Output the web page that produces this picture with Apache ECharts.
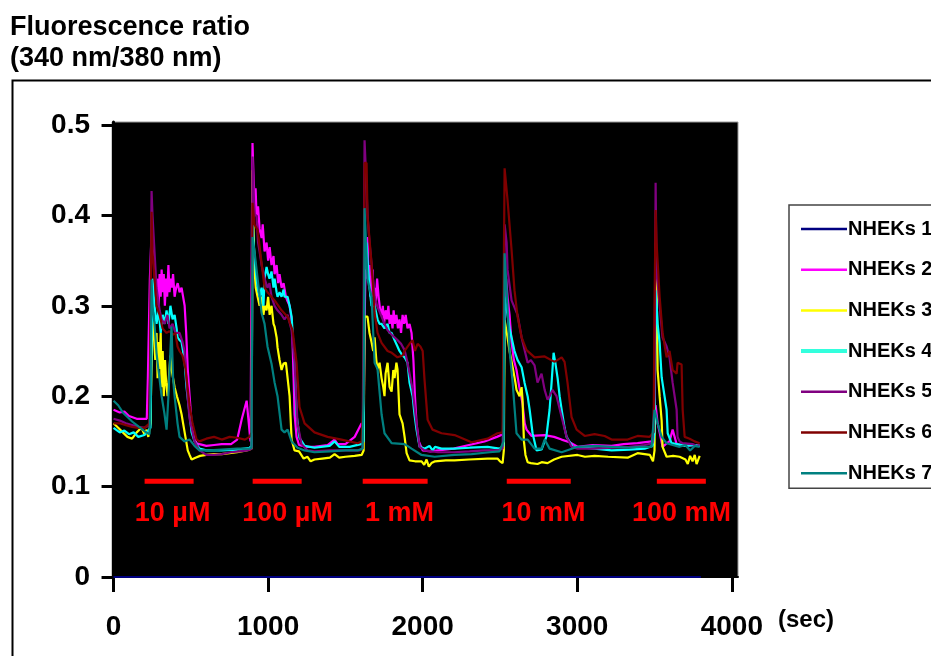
<!DOCTYPE html>
<html>
<head>
<meta charset="utf-8">
<script src="https://cdn.jsdelivr.net/npm/echarts@6/dist/echarts.min.js"></script>
<style>html,body{margin:0;padding:0;background:#fff}#c{width:931px;height:656px}</style>
</head>
<body>
<div id="c"></div>
<script>
// ---------- data (time in sec, fluorescence ratio 340/380) ----------
const seriesNames = ['NHEKs 1','NHEKs 2','NHEKs 3','NHEKs 4','NHEKs 5','NHEKs 6','NHEKs 7'];
const xTicks = [0,1000,2000,3000,4000];
const yTicks = [0,0.1,0.2,0.3,0.4,0.5];

const nhek1 = [[0,0],[3800,0]];
const nhek2 = [[0,0.185],[40,0.182],[70,0.183],[100,0.178],[150,0.175],[215,0.175],[222,0.22],[235,0.33],[246,0.38],[255,0.36],[265,0.34],[275,0.31],[285,0.33],[292,0.30],[298,0.335],[305,0.31],[311,0.34],[318,0.315],[325,0.335],[332,0.30],[340,0.33],[347,0.31],[355,0.345],[362,0.315],[370,0.33],[378,0.32],[385,0.335],[395,0.31],[405,0.32],[415,0.325],[427,0.315],[440,0.32],[450,0.31],[460,0.30],[470,0.27],[480,0.23],[492,0.20],[505,0.17],[520,0.155],[537,0.148],[556,0.147],[600,0.145],[650,0.146],[700,0.147],[760,0.147],[800,0.152],[830,0.175],[861,0.195],[875,0.17],[886,0.15],[893,0.15],[899,0.48],[906,0.44],[912,0.42],[919,0.43],[925,0.40],[935,0.41],[945,0.385],[958,0.375],[965,0.39],[977,0.36],[990,0.37],[1000,0.35],[1010,0.365],[1022,0.345],[1035,0.355],[1042,0.335],[1055,0.345],[1065,0.325],[1074,0.335],[1087,0.32],[1100,0.325],[1115,0.31],[1126,0.305],[1139,0.30],[1152,0.285],[1158,0.26],[1165,0.22],[1171,0.18],[1184,0.155],[1200,0.146],[1250,0.144],[1300,0.144],[1385,0.146],[1430,0.152],[1450,0.147],[1500,0.147],[1560,0.155],[1590,0.165],[1605,0.17],[1618,0.165],[1624,0.28],[1630,0.34],[1637,0.33],[1643,0.376],[1650,0.33],[1656,0.345],[1662,0.31],[1669,0.325],[1676,0.34],[1682,0.31],[1689,0.32],[1697,0.30],[1705,0.33],[1715,0.31],[1725,0.295],[1734,0.29],[1742,0.30],[1750,0.28],[1760,0.295],[1770,0.285],[1778,0.30],[1786,0.28],[1795,0.29],[1805,0.275],[1812,0.295],[1820,0.28],[1830,0.29],[1840,0.275],[1850,0.285],[1860,0.27],[1870,0.29],[1880,0.28],[1890,0.29],[1902,0.275],[1915,0.28],[1928,0.27],[1940,0.24],[1950,0.2],[1960,0.17],[1975,0.15],[2000,0.14],[2050,0.139],[2100,0.14],[2200,0.142],[2300,0.146],[2400,0.15],[2480,0.155],[2520,0.158],[2530,0.30],[2540,0.33],[2549,0.31],[2562,0.29],[2575,0.26],[2590,0.24],[2607,0.229],[2625,0.21],[2646,0.192],[2660,0.17],[2672,0.163],[2705,0.156],[2789,0.157],[2850,0.155],[2899,0.152],[2950,0.149],[3002,0.144],[3100,0.146],[3222,0.145],[3300,0.147],[3390,0.148],[3481,0.15],[3500,0.16],[3507,0.19],[3520,0.17],[3533,0.16],[3552,0.144],[3580,0.148],[3597,0.15],[3617,0.163],[3630,0.155],[3643,0.147],[3700,0.145],[3760,0.146],[3792,0.145]];
const nhek3 = [[0,0.17],[30,0.165],[60,0.16],[90,0.155],[120,0.153],[150,0.16],[180,0.165],[200,0.158],[214,0.163],[225,0.155],[239,0.17],[252,0.30],[260,0.27],[270,0.24],[278,0.27],[285,0.22],[292,0.26],[298,0.23],[305,0.27],[311,0.21],[318,0.25],[325,0.2],[333,0.24],[340,0.215],[350,0.2],[358,0.22],[368,0.245],[375,0.23],[385,0.22],[395,0.21],[410,0.2],[427,0.19],[440,0.18],[455,0.165],[470,0.15],[480,0.14],[492,0.135],[505,0.13],[530,0.132],[560,0.134],[600,0.135],[650,0.136],[700,0.136],[750,0.137],[800,0.138],[860,0.14],[893,0.142],[899,0.45],[906,0.38],[912,0.34],[920,0.32],[932,0.31],[945,0.30],[958,0.31],[970,0.29],[977,0.30],[990,0.295],[1000,0.31],[1010,0.29],[1022,0.30],[1035,0.28],[1042,0.277],[1055,0.265],[1061,0.254],[1074,0.24],[1087,0.229],[1100,0.236],[1115,0.237],[1126,0.236],[1139,0.20],[1152,0.152],[1171,0.14],[1200,0.139],[1230,0.131],[1255,0.133],[1275,0.128],[1300,0.13],[1350,0.131],[1400,0.132],[1430,0.136],[1460,0.132],[1500,0.133],[1560,0.134],[1605,0.135],[1618,0.14],[1624,0.288],[1643,0.288],[1656,0.27],[1669,0.26],[1680,0.25],[1689,0.265],[1700,0.24],[1708,0.23],[1721,0.237],[1734,0.22],[1745,0.21],[1753,0.2],[1760,0.225],[1773,0.237],[1786,0.21],[1799,0.205],[1810,0.229],[1818,0.22],[1830,0.237],[1837,0.23],[1850,0.18],[1870,0.17],[1883,0.155],[1896,0.137],[1915,0.129],[1950,0.128],[1993,0.128],[2010,0.124],[2025,0.13],[2040,0.122],[2057,0.126],[2080,0.128],[2150,0.129],[2206,0.129],[2300,0.13],[2420,0.131],[2484,0.131],[2500,0.128],[2517,0.126],[2525,0.14],[2530,0.284],[2549,0.265],[2562,0.25],[2582,0.232],[2600,0.215],[2607,0.207],[2627,0.2],[2640,0.21],[2646,0.196],[2655,0.15],[2665,0.135],[2679,0.127],[2700,0.126],[2743,0.125],[2770,0.127],[2808,0.126],[2850,0.13],[2899,0.133],[3002,0.135],[3050,0.133],[3112,0.134],[3200,0.133],[3326,0.132],[3390,0.137],[3470,0.135],[3490,0.128],[3500,0.14],[3507,0.37],[3513,0.33],[3520,0.229],[3533,0.2],[3546,0.173],[3552,0.144],[3578,0.133],[3620,0.134],[3662,0.133],[3700,0.13],[3715,0.125],[3730,0.134],[3746,0.128],[3760,0.135],[3772,0.125],[3792,0.134]];
const nhek4 = [[0,0.165],[40,0.16],[70,0.162],[100,0.158],[130,0.16],[160,0.155],[200,0.157],[239,0.165],[252,0.33],[265,0.3],[278,0.28],[292,0.295],[305,0.27],[318,0.29],[330,0.28],[343,0.295],[355,0.28],[368,0.30],[382,0.285],[395,0.29],[408,0.275],[414,0.265],[427,0.262],[440,0.26],[459,0.24],[472,0.21],[492,0.18],[505,0.16],[524,0.15],[556,0.142],[600,0.14],[700,0.14],[800,0.141],[880,0.143],[893,0.145],[899,0.40],[906,0.37],[919,0.34],[932,0.32],[945,0.31],[958,0.32],[970,0.30],[977,0.33],[990,0.343],[1000,0.335],[1009,0.33],[1022,0.338],[1035,0.32],[1042,0.33],[1055,0.315],[1061,0.31],[1074,0.315],[1087,0.31],[1100,0.318],[1106,0.31],[1126,0.31],[1139,0.30],[1152,0.288],[1171,0.237],[1184,0.18],[1203,0.154],[1236,0.145],[1300,0.143],[1398,0.145],[1430,0.15],[1460,0.144],[1527,0.144],[1600,0.147],[1618,0.15],[1624,0.35],[1637,0.37],[1643,0.35],[1656,0.32],[1669,0.3],[1689,0.30],[1708,0.285],[1721,0.28],[1734,0.28],[1753,0.275],[1773,0.28],[1786,0.27],[1799,0.27],[1818,0.262],[1837,0.255],[1850,0.25],[1870,0.245],[1883,0.243],[1902,0.237],[1915,0.215],[1935,0.2],[1947,0.18],[1960,0.163],[1980,0.144],[2012,0.142],[2044,0.145],[2064,0.14],[2080,0.144],[2122,0.142],[2206,0.142],[2303,0.143],[2420,0.144],[2497,0.142],[2523,0.145],[2530,0.31],[2540,0.30],[2549,0.29],[2562,0.275],[2575,0.265],[2594,0.25],[2614,0.24],[2640,0.232],[2659,0.215],[2679,0.2],[2692,0.185],[2711,0.159],[2737,0.14],[2769,0.141],[2800,0.155],[2821,0.185],[2834,0.215],[2847,0.248],[2860,0.235],[2873,0.22],[2886,0.2],[2899,0.185],[2918,0.165],[2931,0.155],[2970,0.144],[3048,0.143],[3112,0.142],[3222,0.14],[3338,0.141],[3436,0.142],[3487,0.145],[3500,0.16],[3507,0.317],[3513,0.303],[3520,0.28],[3533,0.259],[3546,0.221],[3578,0.185],[3585,0.159],[3610,0.148],[3643,0.147],[3700,0.145],[3760,0.146],[3792,0.145]];
const nhek5 = [[0,0.175],[40,0.173],[80,0.17],[120,0.168],[160,0.166],[200,0.165],[233,0.168],[239,0.3],[246,0.427],[252,0.40],[265,0.36],[278,0.32],[298,0.295],[311,0.285],[330,0.28],[349,0.29],[362,0.275],[382,0.28],[400,0.27],[427,0.27],[446,0.26],[459,0.25],[479,0.2],[492,0.175],[511,0.16],[524,0.15],[556,0.14],[600,0.135],[650,0.135],[700,0.136],[760,0.138],[815,0.139],[867,0.14],[893,0.142],[899,0.465],[912,0.40],[925,0.40],[935,0.37],[945,0.36],[958,0.345],[977,0.33],[996,0.32],[1009,0.325],[1022,0.31],[1042,0.30],[1061,0.295],[1087,0.29],[1106,0.285],[1126,0.29],[1152,0.273],[1171,0.237],[1190,0.17],[1216,0.147],[1255,0.14],[1300,0.139],[1400,0.14],[1500,0.14],[1590,0.14],[1611,0.142],[1618,0.3],[1624,0.483],[1637,0.43],[1643,0.40],[1656,0.37],[1669,0.347],[1689,0.31],[1705,0.30],[1734,0.288],[1753,0.28],[1773,0.273],[1800,0.268],[1837,0.262],[1860,0.258],[1883,0.251],[1902,0.237],[1935,0.207],[1960,0.17],[1980,0.144],[2012,0.14],[2100,0.138],[2200,0.138],[2303,0.139],[2400,0.14],[2484,0.14],[2517,0.142],[2523,0.2],[2530,0.39],[2543,0.37],[2549,0.34],[2575,0.306],[2614,0.29],[2640,0.265],[2679,0.237],[2700,0.24],[2724,0.234],[2743,0.215],[2769,0.225],[2789,0.207],[2808,0.196],[2821,0.2],[2840,0.207],[2866,0.2],[2899,0.177],[2931,0.155],[2963,0.144],[3002,0.142],[3112,0.142],[3222,0.143],[3338,0.144],[3436,0.146],[3487,0.148],[3500,0.2],[3507,0.436],[3513,0.34],[3533,0.3],[3552,0.265],[3578,0.255],[3597,0.243],[3617,0.215],[3643,0.185],[3649,0.155],[3662,0.15],[3682,0.148],[3746,0.147],[3772,0.145],[3792,0.146]];
const nhek6 = [[0,0.17],[40,0.17],[80,0.168],[120,0.166],[160,0.165],[200,0.165],[233,0.17],[239,0.28],[246,0.404],[252,0.36],[265,0.33],[278,0.30],[298,0.29],[317,0.275],[343,0.27],[362,0.272],[382,0.268],[400,0.27],[414,0.255],[427,0.25],[446,0.245],[466,0.23],[479,0.21],[492,0.19],[511,0.17],[537,0.152],[556,0.15],[600,0.153],[650,0.155],[700,0.152],[751,0.155],[800,0.154],[850,0.152],[880,0.155],[893,0.16],[899,0.414],[912,0.39],[932,0.384],[958,0.347],[977,0.32],[996,0.315],[1042,0.306],[1087,0.295],[1126,0.288],[1158,0.273],[1184,0.237],[1203,0.188],[1236,0.17],[1300,0.16],[1385,0.155],[1475,0.152],[1579,0.148],[1605,0.15],[1618,0.2],[1624,0.458],[1637,0.458],[1643,0.40],[1669,0.347],[1689,0.292],[1708,0.27],[1734,0.259],[1773,0.25],[1800,0.248],[1837,0.243],[1870,0.245],[1883,0.25],[1915,0.258],[1935,0.262],[1950,0.25],[1967,0.258],[1985,0.255],[2000,0.25],[2012,0.218],[2032,0.174],[2064,0.163],[2122,0.159],[2206,0.157],[2316,0.149],[2420,0.153],[2484,0.159],[2517,0.16],[2523,0.3],[2530,0.452],[2549,0.417],[2575,0.362],[2594,0.317],[2614,0.288],[2640,0.265],[2672,0.251],[2724,0.243],[2789,0.244],[2853,0.238],[2899,0.243],[2918,0.238],[2937,0.215],[2963,0.177],[2996,0.163],[3048,0.156],[3112,0.158],[3177,0.156],[3222,0.152],[3326,0.152],[3390,0.156],[3468,0.155],[3494,0.16],[3500,0.3],[3507,0.406],[3513,0.37],[3533,0.31],[3552,0.27],[3578,0.243],[3597,0.25],[3617,0.229],[3643,0.225],[3649,0.237],[3675,0.235],[3682,0.185],[3695,0.155],[3727,0.153],[3759,0.15],[3792,0.148]];
const nhek7 = [[0,0.195],[30,0.19],[60,0.182],[90,0.177],[120,0.172],[150,0.168],[180,0.164],[210,0.16],[233,0.158],[239,0.2],[246,0.329],[252,0.30],[265,0.28],[278,0.248],[290,0.23],[311,0.2],[330,0.18],[343,0.163],[355,0.2],[368,0.25],[375,0.277],[385,0.22],[395,0.2],[414,0.17],[427,0.155],[459,0.15],[492,0.152],[524,0.145],[556,0.14],[621,0.14],[700,0.141],[800,0.142],[880,0.142],[893,0.143],[899,0.376],[912,0.36],[932,0.33],[958,0.292],[977,0.28],[996,0.255],[1022,0.236],[1042,0.215],[1061,0.2],[1087,0.163],[1106,0.16],[1126,0.163],[1152,0.15],[1190,0.143],[1236,0.14],[1300,0.138],[1400,0.139],[1500,0.14],[1579,0.14],[1611,0.142],[1618,0.2],[1624,0.408],[1643,0.329],[1669,0.31],[1689,0.237],[1708,0.23],[1734,0.18],[1753,0.159],[1799,0.148],[1883,0.147],[1928,0.142],[1993,0.135],[2077,0.133],[2206,0.135],[2316,0.136],[2433,0.138],[2497,0.139],[2523,0.15],[2530,0.358],[2543,0.318],[2562,0.251],[2582,0.215],[2607,0.159],[2640,0.152],[2679,0.152],[2724,0.142],[2769,0.142],[2789,0.152],[2821,0.142],[2899,0.138],[3002,0.144],[3112,0.145],[3222,0.144],[3326,0.143],[3403,0.144],[3481,0.144],[3500,0.185],[3520,0.17],[3546,0.155],[3578,0.148],[3662,0.144],[3700,0.146],[3730,0.14],[3760,0.145],[3792,0.144]];

// stimulation periods (sec)
const stimLabels = ['10 µM','100 µM','1 mM','10 mM','100 mM'];
const stimStart = [201, 900, 1612, 2544, 3515];
const stimEnd = [518, 1217, 2032, 2958, 3832];
const stimLabelAt = [382, 1126, 1850, 2782, 3675];

// ---------- rendering ----------
const colors = ['#000080','#FF00FF','#FFFF00','#00FFFF','#800080','#800000','#008080'];
const allData = [nhek1,nhek2,nhek3,nhek4,nhek5,nhek6,nhek7];
const SF = "'Liberation Sans', Arial, sans-serif";

const chart = echarts.init(document.getElementById('c'), null, {renderer:'canvas'});
const BAR_LEVEL = 0.106, LABEL_LEVEL = 0.07;

const series = allData.map((d,i)=>({
  name: seriesNames[i], type:'line', data:d, showSymbol:false, symbol:'none',
  lineStyle:{color:colors[i], width:2.2}, itemStyle:{color:colors[i]},
  z: 2+i, animation:false
}));
series.push({
  type:'custom', name:'stim', silent:true, z:1,
  data: stimStart.map((s,i)=>[s, stimEnd[i], stimLabelAt[i]]),
  encode:{x:[0,1,2]},
  renderItem:(params, api)=>{
    const i = params.dataIndex;
    const a = api.coord([api.value(0), BAR_LEVEL]);
    const b = api.coord([api.value(1), BAR_LEVEL]);
    const t = api.coord([api.value(2), LABEL_LEVEL]);
    return {type:'group', children:[
      {type:'line', shape:{x1:a[0],y1:a[1],x2:b[0],y2:b[1]}, style:{stroke:'#FF0000', lineWidth:5}},
      {type:'text', x:t[0], y:t[1], style:{text:stimLabels[i], fill:'#FF0000', font:'bold 27px '+SF, align:'center', verticalAlign:'middle'}}
    ]};
  }
});

chart.setOption({
  animation:false,
  backgroundColor:'#fff',
  grid:{left:112, right:193, top:122, bottom:79, show:true, backgroundColor:'#000', borderColor:'#999', borderWidth:1},
  xAxis:{type:'value', min:-10, max:4040,
    axisLine:{show:true, lineStyle:{color:'#000', width:2}},
    axisTick:{show:true, customValues:xTicks, length:15, lineStyle:{color:'#000', width:3}},
    axisLabel:{show:true, customValues:xTicks, margin:36, color:'#000', fontWeight:'bold', fontSize:28, fontFamily:SF,
      formatter:v=>String(Math.round(v))},
    splitLine:{show:false}},
  yAxis:{type:'value', min:0, max:0.5033,
    axisLine:{show:true, lineStyle:{color:'#000', width:3}},
    axisTick:{show:true, customValues:yTicks, length:12, lineStyle:{color:'#000', width:3}},
    axisLabel:{show:true, customValues:yTicks, margin:22, color:'#000', fontWeight:'bold', fontSize:28, fontFamily:SF,
      formatter:v=> v===0 ? '0' : v.toFixed(1)},
    splitLine:{show:false}},
  legend:{orient:'vertical', left:789, top:205, padding:[14,10,5,10], itemGap:20.7, itemWidth:46, itemHeight:20,
    itemStyle:{opacity:0},
    lineStyle:{width:2.5},
    data: seriesNames.map((n,i)=> i===3 ? {name:n, lineStyle:{width:4, color:'#33FFDD'}} : {name:n}),
    textStyle:{fontSize:20, fontWeight:'bold', fontFamily:SF, color:'#000', padding:[0,0,0,-4]},
    borderColor:'#444', borderWidth:1.5, backgroundColor:'#fff'},
  graphic:[
    {type:'rect', left:10, top:78, shape:{width:960, height:620}, style:{fill:'none', stroke:'#000', lineWidth:2}, z:-1, silent:true},
    {type:'text', left:10, top:12, style:{text:'Fluorescence ratio\n(340 nm/380 nm)', font:'bold 27px '+SF, fill:'#000', lineHeight:31}},
    {type:'text', left:778, top:608, style:{text:'(sec)', font:'bold 24px '+SF, fill:'#000'}}
  ],
  series: series
});
</script>
</body>
</html>
